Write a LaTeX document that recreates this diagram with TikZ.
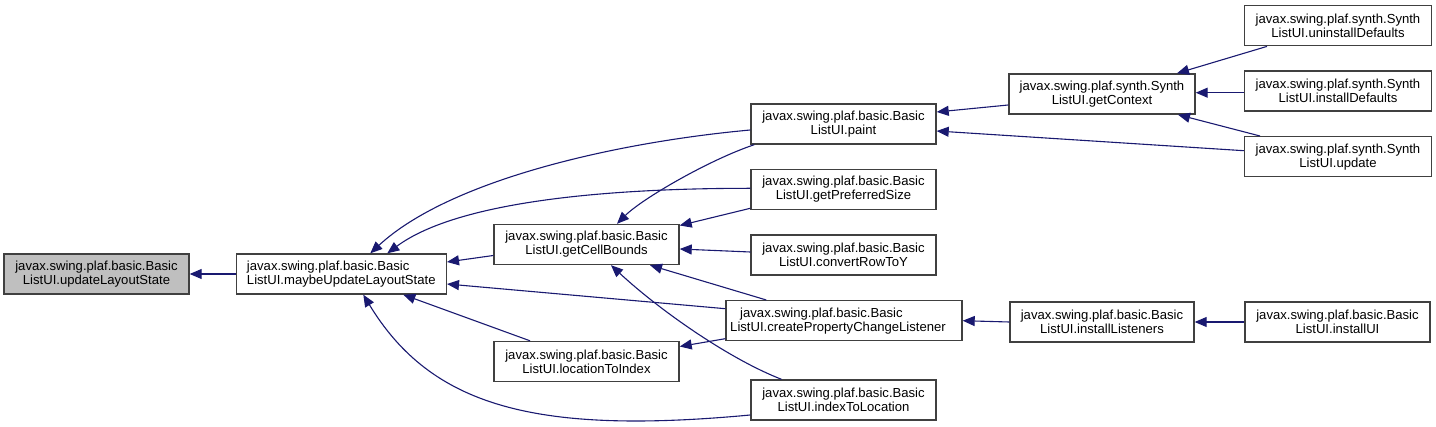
\documentclass[tikz,border=0pt]{standalone}
\usepackage{fontspec}
\setmainfont{Liberation Sans}
\usetikzlibrary{arrows.meta,calc}
\definecolor{edgecol}{HTML}{191970}
\definecolor{boxcol}{HTML}{404040}
\definecolor{grayfill}{HTML}{BFBFBF}
\tikzset{
  box/.style={draw=boxcol, line width=1.4pt, fill=white, minimum width=185pt, minimum height=40pt,
    inner sep=0pt, align=center, font=\fontsize{13.1}{14}\selectfont},
  rootbox/.style={box, fill=grayfill},
  edge/.style={draw=edgecol, line width=1.1pt, -{Triangle[length=12pt,width=10pt]}},
}
\begin{document}
\begin{tikzpicture}[x=1pt,y=-1pt]
\useasboundingbox (0,0) rectangle (1436,427);
% nodes
\node[rootbox] (upd) at (96.5,274) {javax.swing.plaf.basic.Basic\\ListUI.updateLayoutState};
\node[box, minimum width=210pt, align=left] (maybe) at (341.3,274) {javax.swing.plaf.basic.Basic\\ListUI.maybeUpdateLayoutState};
\node[box] (gcb) at (586.5,244.5) {javax.swing.plaf.basic.Basic\\ListUI.getCellBounds};
\node[box] (l2i) at (586.5,361.5) {javax.swing.plaf.basic.Basic\\ListUI.locationToIndex};
\node[box] (paint) at (843.5,124) {javax.swing.plaf.basic.Basic\\ListUI.paint};
\node[box] (gps) at (843.5,189.3) {javax.swing.plaf.basic.Basic\\ListUI.getPreferredSize};
\node[box] (crty) at (843.5,255) {javax.swing.plaf.basic.Basic\\ListUI.convertRowToY};
\node[box, minimum width=236pt, align=left] (cpcl) at (844,320.7) {\hspace*{10pt}javax.swing.plaf.basic.Basic\\ListUI.createPropertyChangeListener\hspace*{12pt}};
\node[box] (i2l) at (843.5,400) {javax.swing.plaf.basic.Basic\\ListUI.indexToLocation};
\node[box, minimum width=186pt] (gctx) at (1102,94) {javax.swing.plaf.synth.Synth\\ListUI.getContext};
\node[box, minimum width=184pt] (ild) at (1102,322) {javax.swing.plaf.basic.Basic\\ListUI.installListeners};
\node[box, minimum width=187pt] (unin) at (1338,25.7) {javax.swing.plaf.synth.Synth\\ListUI.uninstallDefaults};
\node[box, minimum width=187pt] (insd) at (1338,91) {javax.swing.plaf.synth.Synth\\ListUI.installDefaults};
\node[box, minimum width=187pt] (upd2) at (1338,156.7) {javax.swing.plaf.synth.Synth\\ListUI.update};
\node[box] (iui) at (1337.5,322) {javax.swing.plaf.basic.Basic\\ListUI.installUI};
% edges
\draw[edge] (maybe.west) -- (upd.east);
\draw[edge] ($(paint.west)+(0,6)$) .. controls +(-132,12) and +(80,-74) .. ($(maybe.north)+(29,0)$);
\draw[edge] ($(gps.west)+(0,-1)$) .. controls +(-132,0) and +(73,-54) .. ($(maybe.north)+(46,0)$);
\draw[edge] ($(gcb.west)+(0,11)$) -- ($(maybe.east)+(0,-12)$);
\draw[edge] ($(cpcl.west)+(0,-12)$) -- ($(maybe.east)+(0,10)$);
\draw[edge] ($(l2i.north)+(-56.5,0)$) -- ($(maybe.south)+(62,0)$);
\draw[edge] ($(i2l.west)+(0,15)$) .. controls +(-215,20) and +(68,112) .. ($(maybe.south)+(22,0)$);
\draw[edge] ($(paint.south west)+(4,0)$) .. controls +(-45,15) and +(25,-25) .. ($(gcb.north)+(30.5,0)$);
\draw[edge] ($(gps.west)+(0,19)$) -- ($(gcb.east)+(0,-19)$);
\draw[edge] ($(crty.west)+(0,-3)$) -- ($(gcb.east)+(0,4.5)$);
\draw[edge] ($(cpcl.north west)+(41,0)$) -- ($(gcb.south)+(63.5,0)$);
\draw[edge] ($(i2l.north)+(-62,0)$) .. controls +(-51.7,-20) and +(49,45.5) .. ($(gcb.south)+(24.5,0)$);
\draw[edge] ($(cpcl.west)+(0,18)$) -- ($(l2i.east)+(0,-15)$);
\draw[edge] ($(gctx.west)+(0,11)$) -- ($(paint.east)+(0,-12)$);
\draw[edge] ($(upd2.west)+(0,-6)$) -- ($(paint.east)+(0,7)$);
\draw[edge] ($(unin.south)+(-71,0)$) -- ($(gctx.north)+(75,0)$);
\draw[edge] ($(insd.west)+(0,1.7)$) -- ($(gctx.east)+(0,-1.3)$);
\draw[edge] ($(upd2.north)+(-78,0)$) -- ($(gctx.south)+(76,0)$);
\draw[edge] (ild.west) -- (cpcl.east);
\draw[edge] (iui.west) -- (ild.east);
\end{tikzpicture}
\end{document}
